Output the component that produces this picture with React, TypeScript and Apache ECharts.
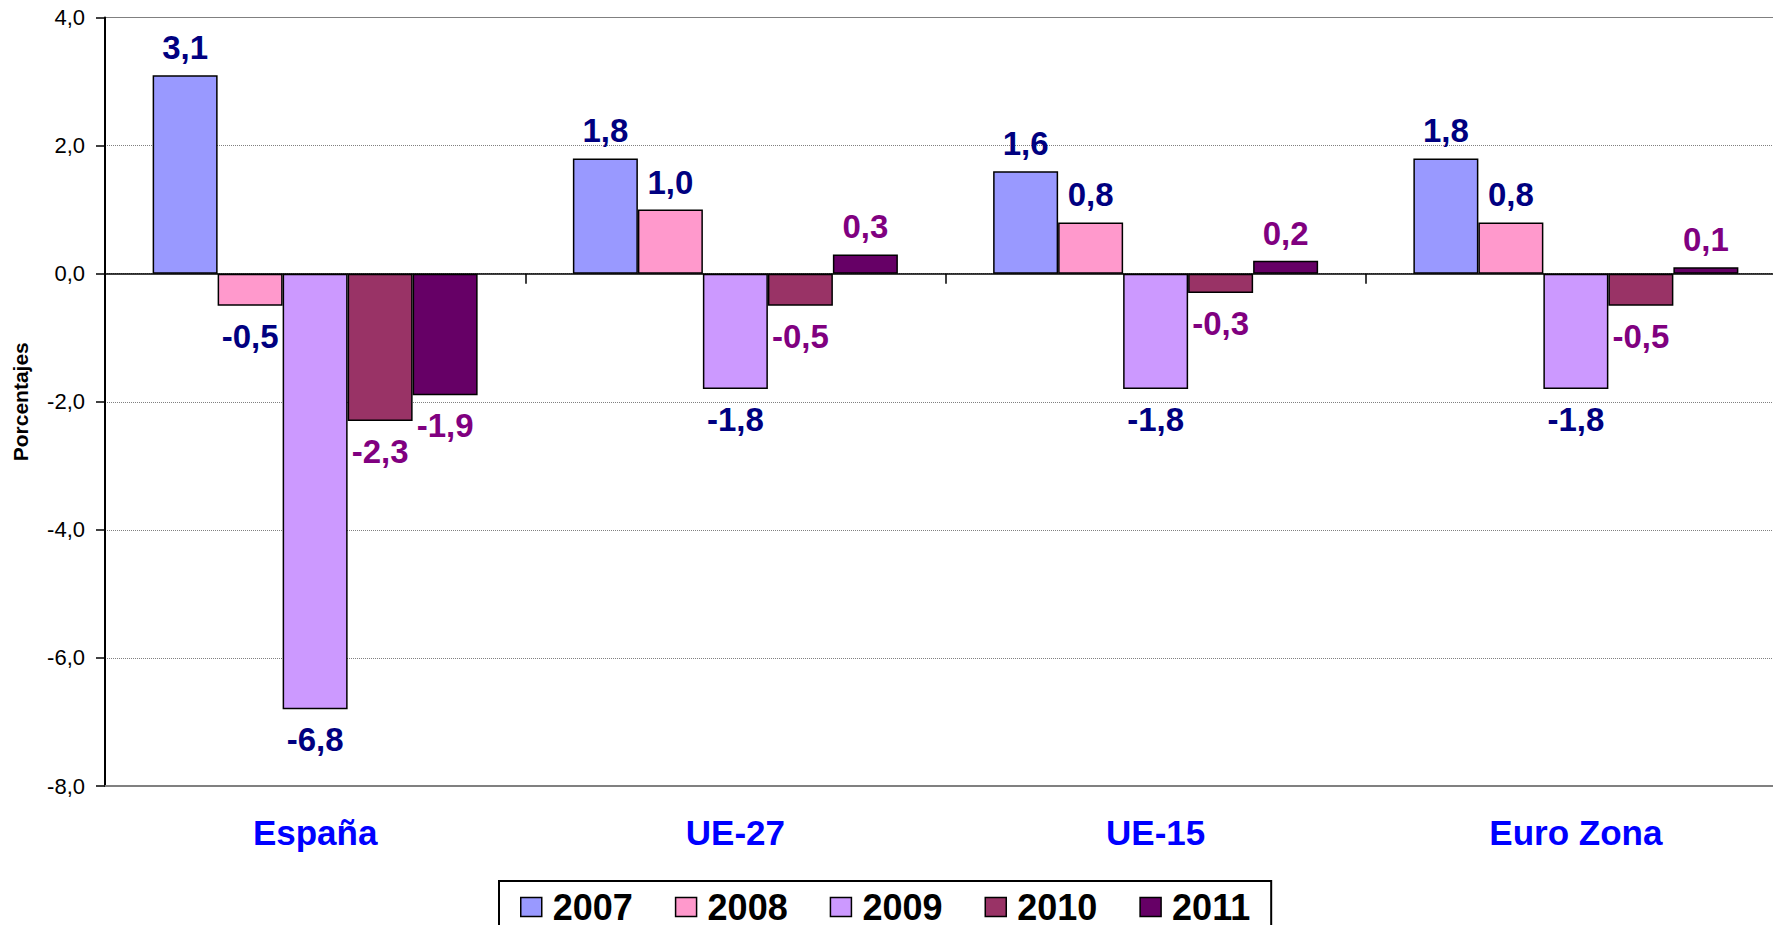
import React, { useEffect, useRef } from "react";
import * as echarts from "echarts";

const categories = ["España", "UE-27", "UE-15", "Euro Zona"];
const years = ["2007", "2008", "2009", "2010", "2011"];
const v2007 = [3.1, 1.8, 1.6, 1.8];
const v2008 = [-0.5, 1.0, 0.8, 0.8];
const v2009 = [-6.8, -1.8, -1.8, -1.8];
const v2010 = [-2.3, -0.5, -0.3, -0.5];
const v2011 = [-1.9, 0.3, 0.2, 0.1];
const yTicks = { min: -8, max: 4, interval: 2 };

const seriesValues = [v2007, v2008, v2009, v2010, v2011];
const barColors = ["#9999FF", "#FF99CC", "#CC99FF", "#993366", "#660066"];
const labelColors = ["#000080", "#000080", "#000080", "#800080", "#800080"];

const FONT = 'Arial, "Liberation Sans", sans-serif';
const fmt = (v: number) => v.toFixed(1).replace(".", ",");

export default function App() {
  const ref = useRef<HTMLDivElement>(null);
  useEffect(() => {
    if (!ref.current) return;
    const chart = echarts.init(ref.current, null, { renderer: "svg" });
    chart.setOption({
      animation: false,
      backgroundColor: "#ffffff",
      grid: {
        left: 105,
        top: 17.5,
        width: 1681,
        height: 768.5,
        containLabel: false,
        outerBoundsMode: "none",
        show: true,
        borderColor: "#808080",
        borderWidth: 1,
        backgroundColor: "transparent",
      },
      legend: {
        data: years,
        left: 499,
        top: 881,
        orient: "horizontal",
        icon: "rect",
        padding: [8, 21, 20, 21],
        itemWidth: 21,
        itemHeight: 19,
        itemGap: 42,
        borderColor: "#000000",
        borderWidth: 2,
        itemStyle: { borderColor: "#000000", borderWidth: 1.5 },
        textStyle: {
          fontFamily: FONT,
          fontWeight: "bold",
          fontSize: 36,
          lineHeight: 28,
          color: "#000000",
          padding: [0, 0, 0, 6],
        },
      },
      xAxis: [
        {
          type: "category",
          data: categories,
          axisLine: { onZero: true, lineStyle: { color: "#000000", width: 1.5 } },
          axisTick: { show: true, length: 10, lineStyle: { color: "#000000", width: 1.5 } },
          axisLabel: { show: false },
          splitLine: { show: false },
          z: 5,
        },
        {
          type: "category",
          data: categories,
          position: "bottom",
          axisLine: { show: true, onZero: false, lineStyle: { color: "#808080", width: 2 } },
          axisTick: { show: false },
          axisLabel: {
            show: true,
            margin: 29,
            color: "#0000FF",
            fontFamily: FONT,
            fontWeight: "bold",
            fontSize: 35,
          },
        },
      ],
      yAxis: {
        type: "value",
        min: yTicks.min,
        max: yTicks.max,
        interval: yTicks.interval,
        name: "Porcentajes",
        nameLocation: "middle",
        nameGap: 74,
        nameRotate: 90,
        nameTextStyle: {
          fontFamily: FONT,
          fontWeight: "bold",
          fontSize: 21,
          color: "#000000",
        },
        axisLine: { show: true, lineStyle: { color: "#000000", width: 2 } },
        axisTick: { show: true, length: 9, lineStyle: { color: "#000000", width: 1.5 } },
        axisLabel: {
          formatter: (v: number) => fmt(v),
          margin: 20,
          fontFamily: FONT,
          fontSize: 22,
          color: "#000000",
        },
        splitLine: { show: true, lineStyle: { color: "#808080", type: "dotted", width: 1 } },
      },
      series: years.map((y, i) => ({
        name: y,
        type: "bar",
        xAxisIndex: 0,
        barWidth: 65,
        barGap: "0%",
        itemStyle: { color: barColors[i], borderColor: "#000000", borderWidth: 1.5 },
        data: seriesValues[i].map((v) => ({
          value: v,
          label: {
            position: v >= 0 ? "top" : "bottom",
            distance: v >= 0 ? 11 : 14,
          },
        })),
        label: {
          show: true,
          formatter: (p: any) => fmt(p.value),
          color: labelColors[i],
          fontFamily: FONT,
          fontWeight: "bold",
          fontSize: 33,
        },
      })),
    });
    return () => chart.dispose();
  }, []);
  return (
    <div
      ref={ref}
      style={{ position: "absolute", left: 0, top: 0, width: 1773, height: 925 }}
    />
  );
}
